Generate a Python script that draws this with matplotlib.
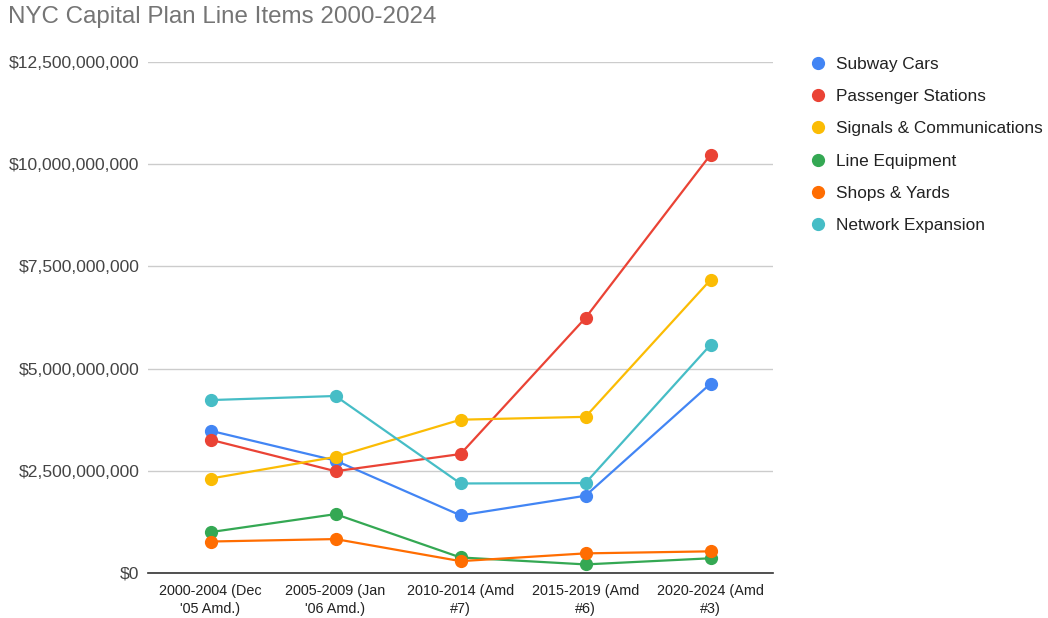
import matplotlib.pyplot as plt
from matplotlib.ticker import FuncFormatter

# --- data (billions of dollars) ---
periods = ["2000-2004 (Dec\n'05 Amd.)", "2005-2009 (Jan\n'06 Amd.)",
           "2010-2014 (Amd\n#7)", "2015-2019 (Amd\n#6)", "2020-2024 (Amd\n#3)"]
subway_cars = [3.48, 2.75, 1.41, 1.89, 4.63]
passenger_stations = [3.26, 2.49, 2.91, 6.24, 10.23]
signals_comms = [2.31, 2.84, 3.75, 3.82, 7.17]
line_equipment = [1.00, 1.44, 0.38, 0.21, 0.36]
shops_yards = [0.77, 0.83, 0.29, 0.48, 0.53]
network_expansion = [4.23, 4.33, 2.19, 2.20, 5.58]

series = [
    ("Subway Cars", subway_cars, "#4285F4"),
    ("Passenger Stations", passenger_stations, "#EA4335"),
    ("Signals & Communications", signals_comms, "#FBBC04"),
    ("Line Equipment", line_equipment, "#34A853"),
    ("Shops & Yards", shops_yards, "#FF6D01"),
    ("Network Expansion", network_expansion, "#46BDC6"),
]
y_ticks = [0, 2.5, 5, 7.5, 10, 12.5]

plt.rcParams['font.family'] = ['Liberation Sans', 'DejaVu Sans']

fig = plt.figure(figsize=(10.48, 6.18), dpi=100)
ax = fig.add_axes([148 / 1048, 1 - 573 / 618, (773 - 148) / 1048, (573 - 62) / 618])

x = range(len(periods))
for name, vals, color in series:
    ax.plot(x, [v * 1e9 for v in vals], color=color, lw=1.6, marker='o',
            markersize=8.5, label=name, zorder=3)

ax.set_xlim(-0.5, len(periods) - 0.5)
ax.set_ylim(0, 12.5e9)
ax.set_yticks([t * 1e9 for t in y_ticks])
ax.yaxis.set_major_formatter(FuncFormatter(lambda v, p: f"${v:,.0f}"))
ax.set_xticks(list(x))
ax.set_xticklabels(periods, fontsize=10.4, color='#222222', linespacing=1.35)
ax.tick_params(axis='y', labelsize=12.6, colors='#444444', length=0, pad=6)
ax.tick_params(axis='x', length=0, pad=8)

ax.grid(axis='y', color='#cccccc', lw=1)
ax.set_axisbelow(True)
for s in ['top', 'right', 'left']:
    ax.spines[s].set_visible(False)
ax.spines['bottom'].set_color('#333333')
ax.spines['bottom'].set_linewidth(1.2)

fig.text(8 / 1048, 1 - 17 / 618, "NYC Capital Plan Line Items 2000-2024",
         fontsize=17.4, color='#757575', ha='left', va='center')

leg = ax.legend(loc='upper left', bbox_to_anchor=(811 / 1048, 1 - 50 / 618),
                bbox_transform=fig.transFigure, frameon=False, fontsize=12.4,
                handlelength=0, handletextpad=1.05, labelspacing=1.0,
                borderaxespad=0, markerscale=1.0)
for h in leg.legend_handles:
    h.set_linestyle('None')
for t in leg.get_texts():
    t.set_color('#222222')

fig.savefig("out.png", dpi=100)
